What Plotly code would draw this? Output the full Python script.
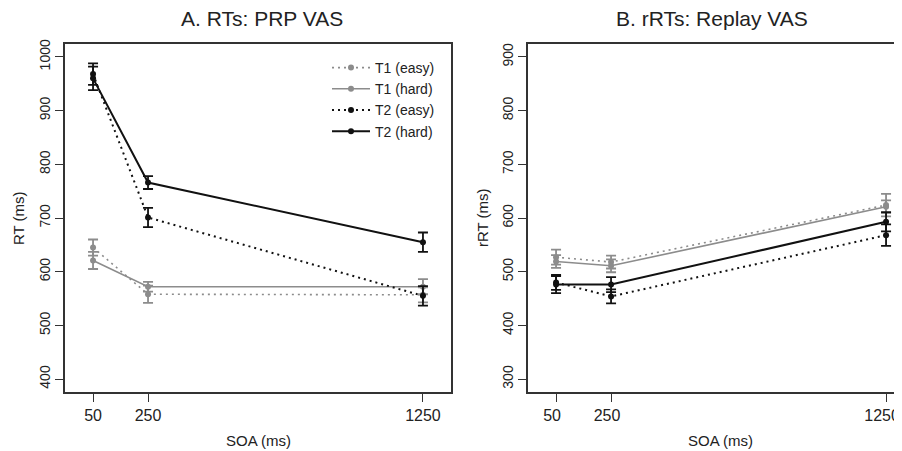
import plotly.graph_objects as go

soa = [50, 250, 1250]
soa_labels = ["50", "250", "1250"]
series_names = ["T1 (easy)", "T1 (hard)", "T2 (easy)", "T2 (hard)"]

# Panel A: RTs, PRP VAS
a_t1_easy = [645, 558, 557]
a_t1_easy_err = [15, 16, 14]
a_t1_hard = [621, 572, 572]
a_t1_hard_err = [16, 9, 14]
a_t2_easy = [968, 701, 555]
a_t2_easy_err = [20, 18, 18]
a_t2_hard = [960, 766, 655]
a_t2_hard_err = [22, 12, 18]

# Panel B: rRTs, Replay VAS
b_t1_easy = [527, 518, 624]
b_t1_easy_err = [14, 12, 21]
b_t1_hard = [519, 511, 621]
b_t1_hard_err = [12, 12, 12]
b_t2_easy = [480, 454, 568]
b_t2_easy_err = [14, 13, 20]
b_t2_hard = [476, 476, 593]
b_t2_hard_err = [16, 14, 18]

GRAY = "#8c8c8c"
BLACK = "#111111"
FONT = "Liberation Sans, Arial, sans-serif"
TXT = "#222222"

styles = {
    "T1 (easy)": dict(color=GRAY, dash="2px,4px", width=1.6),
    "T1 (hard)": dict(color=GRAY, dash="solid", width=1.6),
    "T2 (easy)": dict(color=BLACK, dash="2px,4px", width=2),
    "T2 (hard)": dict(color=BLACK, dash="solid", width=2),
}

fig = go.Figure()

panelA = [(a_t1_easy, a_t1_easy_err), (a_t1_hard, a_t1_hard_err),
          (a_t2_easy, a_t2_easy_err), (a_t2_hard, a_t2_hard_err)]
panelB = [(b_t1_easy, b_t1_easy_err), (b_t1_hard, b_t1_hard_err),
          (b_t2_easy, b_t2_easy_err), (b_t2_hard, b_t2_hard_err)]

for (xa, ya, show, data) in [("x", "y", True, panelA), ("x2", "y2", False, panelB)]:
    for name, (vals, errs) in zip(series_names, data):
        st = styles[name]
        fig.add_trace(go.Scatter(
            x=soa, y=vals, name=name, mode="lines+markers",
            xaxis=xa, yaxis=ya, showlegend=show,
            line=dict(color=st["color"], dash=st["dash"], width=st["width"]),
            marker=dict(color=st["color"], size=6),
            error_y=dict(type="data", array=errs, visible=True,
                         color=st["color"], thickness=1.8, width=5),
        ))

# page body has an 8px margin: figure origin sits at page (8, 8)
OFF = 8
W, H = 902 - OFF, 451 - OFF


def px(x):
    return (x - OFF) / W


def py(y):
    return 1 - (y - OFF) / H


axA_l, axA_r = px(65), px(451)
axB_l, axB_r = px(528), 1.0
y_b, y_t = py(392), py(44)

common_x = dict(tickvals=soa, ticktext=soa_labels, ticks="outside", ticklen=8,
                tickwidth=1.2, tickcolor="#333", showgrid=False, zeroline=False,
                showline=True, linecolor="#333", linewidth=1.5, automargin=False,
                ticklabeloverflow="allow",
                tickfont=dict(size=16, color=TXT, family=FONT))
common_y = dict(ticks="outside", ticklen=8, tickwidth=1.2, tickcolor="#333",
                showgrid=False, zeroline=False, showline=True, linecolor="#333",
                linewidth=1.5, tickangle=-90, automargin=False,
                tickfont=dict(size=14, color=TXT, family=FONT))

ann_font = dict(size=15, color=TXT, family=FONT)

fig.update_layout(
    width=W, height=H,
    margin=dict(l=0, r=0, t=0, b=0, pad=0, autoexpand=False),
    paper_bgcolor="white", plot_bgcolor="white",
    font=dict(family=FONT, color=TXT),
    xaxis=dict(domain=[axA_l, axA_r], range=[-52, 1352], anchor="y", mirror=True, **common_x),
    yaxis=dict(domain=[y_b, y_t], range=[376, 1024], anchor="x", mirror=True,
               tickvals=[400, 500, 600, 700, 800, 900, 1000], **common_y),
    xaxis2=dict(domain=[axB_l, axB_r], range=[-52, 1308], anchor="y2", mirror=True,
                ticklabelshift=-4, **common_x),
    yaxis2=dict(domain=[y_b, y_t], range=[276, 924], anchor="x2", mirror=False,
                tickvals=[300, 400, 500, 600, 700, 800, 900], **common_y),
    legend=dict(x=px(327), y=py(52), xanchor="left", yanchor="top",
                bgcolor="rgba(0,0,0,0)", font=dict(size=14, color=TXT, family=FONT),
                itemwidth=38),
    showlegend=True,
    annotations=[
        dict(text="A. RTs: PRP VAS", x=px(262), y=py(19), xref="paper", yref="paper",
             xanchor="center", yanchor="middle", showarrow=False,
             font=dict(size=21, color=TXT, family=FONT)),
        dict(text="B. rRTs: Replay VAS", x=px(712), y=py(19), xref="paper", yref="paper",
             xanchor="center", yanchor="middle", showarrow=False,
             font=dict(size=21, color=TXT, family=FONT)),
        dict(text="SOA (ms)", x=px(258), y=py(440), xref="paper", yref="paper",
             xanchor="center", yanchor="middle", showarrow=False, font=ann_font),
        dict(text="SOA (ms)", x=px(720), y=py(440), xref="paper", yref="paper",
             xanchor="center", yanchor="middle", showarrow=False, font=ann_font),
        dict(text="RT (ms)", x=px(18), y=(y_b + y_t) / 2, xref="paper", yref="paper",
             xanchor="center", yanchor="middle", showarrow=False, textangle=-90, font=ann_font),
        dict(text="rRT (ms)", x=px(482), y=(y_b + y_t) / 2, xref="paper", yref="paper",
             xanchor="center", yanchor="middle", showarrow=False, textangle=-90, font=ann_font),
    ],
)

fig.write_html("out.html")
